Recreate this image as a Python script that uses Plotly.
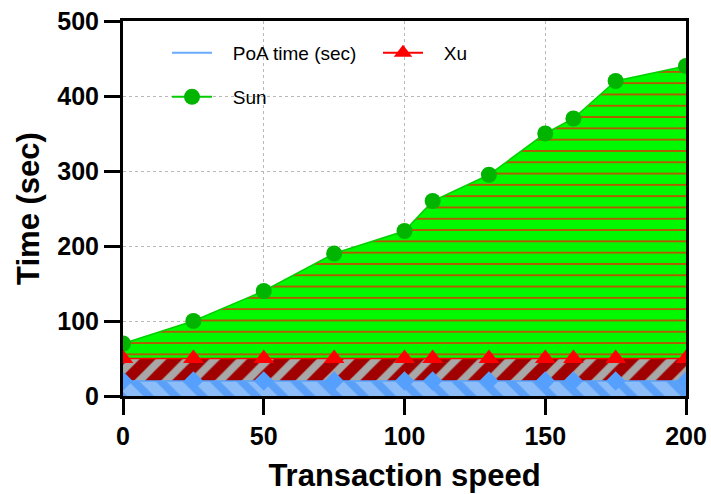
import plotly.graph_objects as go

x_vals = [0, 25, 50, 75, 100, 110, 130, 150, 160, 175, 200]
sun = [70, 100, 140, 190, 220, 260, 295, 350, 370, 420, 440]
xu = [50, 50, 50, 50, 50, 50, 50, 50, 50, 50, 50]
poa = [20, 20, 20, 20, 20, 20, 20, 20, 20, 20, 20]

FONT = "Arial, Liberation Sans, sans-serif"
NB = "\u00a0"

fig = go.Figure()

# Sun area
fig.add_trace(go.Scatter(
    x=x_vals, y=sun, mode="lines+markers", fill="tozeroy", showlegend=False,
    line=dict(color="#00d000", width=1.5),
    marker=dict(symbol="circle", size=16, color="#00b400"),
    fillcolor="#00f800",
    fillpattern=dict(shape="-", bgcolor="#00f800", fgcolor="#c84800", size=11.3, solidity=0.15,
                     fillmode="replace"),
))
# Xu area
fig.add_trace(go.Scatter(
    x=x_vals, y=xu, mode="lines", fill="tozeroy", showlegend=False,
    line=dict(color="#ff0000", width=1.5),
    fillcolor="#a00000",
    fillpattern=dict(shape="/", bgcolor="#a00000", fgcolor="#a8a8a8", size=19, solidity=0.4,
                     fillmode="replace"),
))
# PoA area
fig.add_trace(go.Scatter(
    x=x_vals, y=poa, mode="lines+markers", fill="tozeroy", showlegend=False,
    line=dict(color="#5aa5ff", width=1.5),
    marker=dict(symbol="diamond", size=15, color="#55a0ff"),
    fillcolor="#8cbdf8",
    fillpattern=dict(shape="\\", bgcolor="#8cbdf8", fgcolor="#5aa0f8", size=19, solidity=0.4,
                     fillmode="replace"),
))
# Xu markers on top
fig.add_trace(go.Scatter(
    x=x_vals, y=xu, mode="markers", showlegend=False,
    marker=dict(symbol="triangle-up", size=18, color="#ff0000"),
))

# Legend entries
fig.add_trace(go.Scatter(x=[None], y=[None], mode="lines", name=NB * 3 + "PoA time (sec)",
                         line=dict(color="#6aaaff", width=2), legend="legend"))
fig.add_trace(go.Scatter(x=[None], y=[None], mode="lines+markers", name=NB * 3 + "Xu",
                         line=dict(color="#ff0000", width=2),
                         marker=dict(symbol="triangle-up", size=16, color="#ff0000"), legend="legend"))
fig.add_trace(go.Scatter(x=[None], y=[None], mode="lines+markers", name=NB * 3 + "Sun",
                         line=dict(color="#00cc00", width=2),
                         marker=dict(symbol="circle", size=16, color="#00b400"), legend="legend2"))

axis_common = dict(
    showline=True, linecolor="black", linewidth=3, mirror=True,
    ticks="outside", ticklen=16, tickwidth=3, tickcolor="black",
    showgrid=True, gridcolor="#b8b8b8", griddash="dot", gridwidth=1,
    zeroline=False, automargin=False,
    tickfont=dict(family=FONT, size=25, color="black", weight="bold"),
)

fig.update_xaxes(
    range=[0, 200], tickvals=[0, 50, 100, 150, 200],
    title=dict(text="<b>Transaction speed</b>", font=dict(family=FONT, size=31, color="black"), standoff=16),
    **axis_common,
)
fig.update_yaxes(
    range=[0, 500], tickvals=[0, 100, 200, 300, 400, 500],
    title=dict(text="<b>Time (sec)</b>", font=dict(family=FONT, size=31, color="black"), standoff=9),
    **axis_common,
)

legend_common = dict(
    orientation="h", xanchor="left", yanchor="middle",
    font=dict(family=FONT, size=19, color="black"),
    bgcolor="rgba(0,0,0,0)", itemwidth=40,
)

fig.update_layout(
    width=711, height=494,
    margin=dict(l=123, r=25, t=21, b=98),
    plot_bgcolor="white", paper_bgcolor="white",
    legend=dict(x=(167 - 123) / 563, y=(396 - 53) / 375, entrywidth=156, entrywidthmode="pixels", **legend_common),
    legend2=dict(x=(167 - 123) / 563, y=(396 - 97) / 375, **legend_common),
)

fig.write_html("out.html", config={"displayModeBar": False},
               post_script="document.body.style.margin='0';document.body.style.padding='0';")
